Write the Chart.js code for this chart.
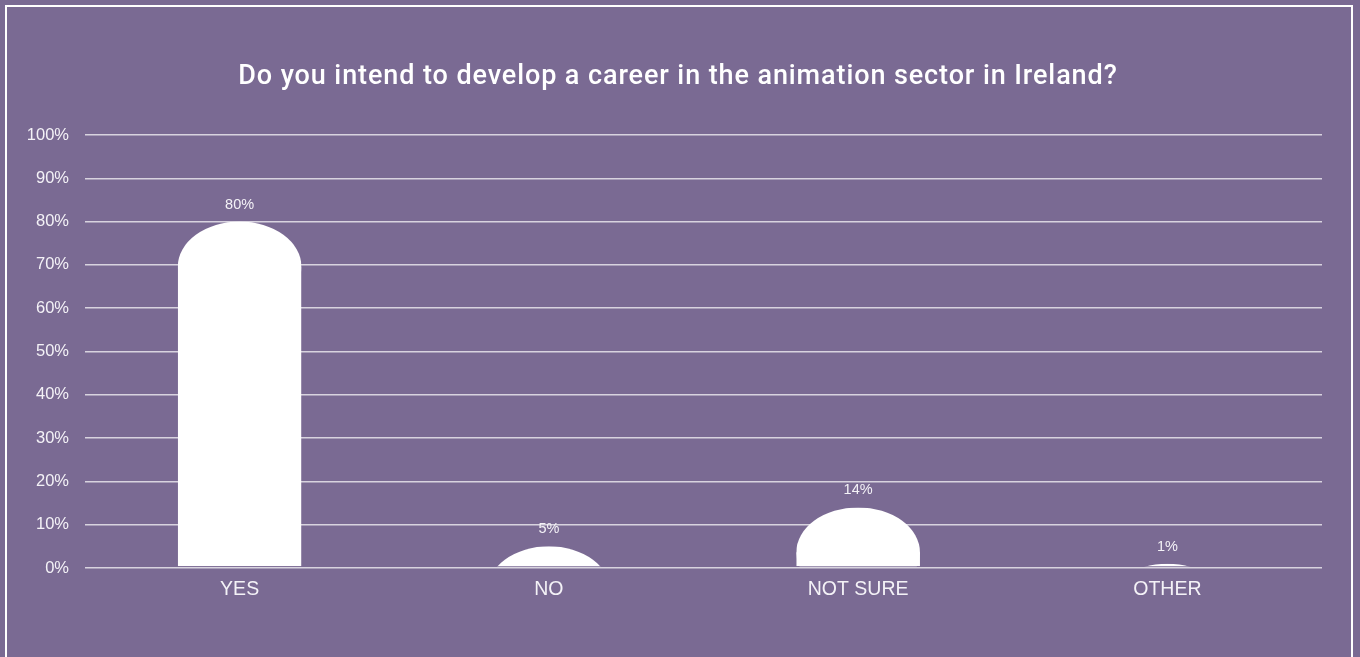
<!DOCTYPE html>
<html>
<head>
<meta charset="utf-8">
<script src="https://cdn.jsdelivr.net/npm/chart.js@4.4.0/dist/chart.umd.min.js"></script>
<style>
  html, body { margin: 0; padding: 0; background: #7a6a93; overflow: hidden; }
  #wrap { position: relative; width: 1360px; height: 657px; }
  #frame {
    position: absolute; left: 5px; top: 5px; width: 1344px; height: 700px;
    border: 2px solid #ffffff; pointer-events: none;
  }
  canvas { position: absolute; left: 0; top: 0; }
</style>
</head>
<body>
<div id="wrap">
  <canvas id="chart" width="1360" height="657"></canvas>
  <div id="frame"></div>
</div>
<script>
const categories = ['YES', 'NO', 'NOT SURE', 'OTHER'];
const answers = [80, 5, 14, 1];
const yTicks = [0, 10, 20, 30, 40, 50, 60, 70, 80, 90, 100];
const chartTitle = 'Do you intend to develop a career in the animation sector in Ireland?';

const textColor = '#f4f2f7';

// heading, drawn centred over the page
const heading = {
  id: 'heading',
  afterDraw(chart) {
    const ctx = chart.ctx;
    ctx.save();
    ctx.fillStyle = '#ffffff';
    ctx.font = '500 27px Roboto, sans-serif';
    ctx.letterSpacing = '0.9px';
    ctx.textAlign = 'center';
    ctx.textBaseline = 'alphabetic';
    ctx.fillText(chartTitle, chart.width / 2 - 2, 84);
    ctx.restore();
  }
};

// bars with an elliptical cap on top instead of square corners
const capBars = {
  id: 'capBars',
  afterDatasetsDraw(chart) {
    const ctx = chart.ctx;
    const meta = chart.getDatasetMeta(0);
    meta.data.forEach((bar, i) => {
      const w = bar.width;
      const left = bar.x - w / 2;
      const rx = w / 2;
      const ry = 45;
      const bottom = bar.base - 1;
      ctx.save();
      ctx.beginPath();
      ctx.rect(left, bar.y, w, bottom - bar.y);
      ctx.clip();
      ctx.fillStyle = '#ffffff';
      ctx.beginPath();
      ctx.ellipse(bar.x, bar.y + ry, rx, ry, 0, 0, Math.PI * 2);
      ctx.fill();
      if (bottom > bar.y + ry) {
        ctx.fillRect(left, bar.y + ry, w, bottom - bar.y - ry);
      }
      ctx.restore();

      ctx.save();
      ctx.fillStyle = textColor;
      ctx.font = '14.5px "Liberation Sans", Arial, sans-serif';
      ctx.textAlign = 'center';
      ctx.textBaseline = 'middle';
      ctx.fillText(answers[i] + '%', bar.x, bar.y - 17);
      ctx.restore();
    });
  }
};

new Chart(document.getElementById('chart'), {
  type: 'bar',
  data: {
    labels: categories,
    datasets: [{
      data: answers,
      backgroundColor: 'rgba(0,0,0,0)',
      borderWidth: 0,
      barPercentage: 0.5,
      categoryPercentage: 0.8
    }]
  },
  options: {
    responsive: false,
    animation: false,
    devicePixelRatio: 1,
    layout: { padding: { left: 24, right: 38, top: 135, bottom: 39 } },
    plugins: {
      legend: { display: false },
      tooltip: { enabled: false },
      title: { display: false }
    },
    scales: {
      x: {
        grid: { display: false, drawTicks: false, tickLength: 0 },
        border: { display: false },
        ticks: {
          color: textColor,
          padding: 10,
          font: { family: '"Liberation Sans", Arial, sans-serif', size: 19.5 }
        },
        afterFit(scale) { scale.height = 50; }
      },
      y: {
        min: yTicks[0],
        max: yTicks[yTicks.length - 1],
        afterBuildTicks(scale) { scale.ticks = yTicks.map(v => ({ value: v })); },
        grid: { color: '#d8d3df', lineWidth: 1.5, drawTicks: false, tickLength: 0 },
        border: { display: false },
        ticks: {
          color: textColor,
          padding: 16,
          font: { family: '"Liberation Sans", Arial, sans-serif', size: 16.5 },
          callback: v => v + '%'
        },
        afterFit(scale) { scale.width = 61; }
      }
    }
  },
  plugins: [capBars, heading]
});
</script>
</body>
</html>
